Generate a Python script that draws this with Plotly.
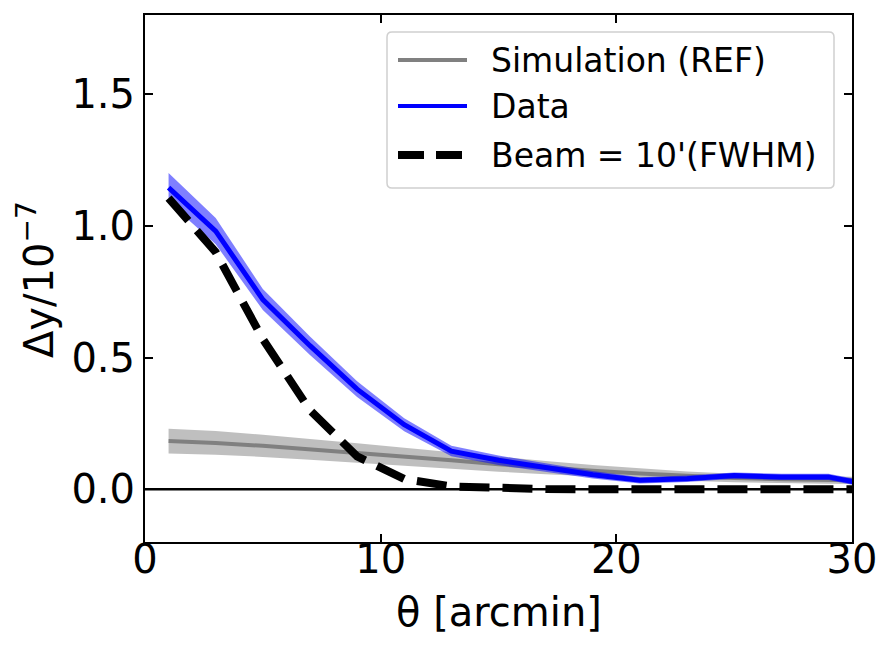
import plotly.graph_objects as go

theta = [1, 3, 5, 7, 9, 11, 13, 15, 17, 19, 21, 23, 25, 27, 29, 31]
data_y = [1.145, 0.98, 0.72, 0.545, 0.38, 0.245, 0.145, 0.11, 0.083, 0.055, 0.034, 0.04, 0.052, 0.047, 0.047, 0.012]
data_err = [0.055, 0.05, 0.04, 0.035, 0.03, 0.025, 0.02, 0.018, 0.016, 0.014, 0.012, 0.012, 0.012, 0.012, 0.012, 0.012]
sim_y = [0.183, 0.176, 0.165, 0.152, 0.138, 0.124, 0.11, 0.095, 0.082, 0.07, 0.06, 0.05, 0.043, 0.038, 0.035, 0.033]
sim_err = [0.047, 0.045, 0.042, 0.04, 0.037, 0.034, 0.031, 0.028, 0.025, 0.022, 0.02, 0.018, 0.016, 0.015, 0.014, 0.014]
beam_y = [1.105, 0.9, 0.57, 0.3, 0.125, 0.039, 0.011, 0.003, 0.001, 0, 0, 0, 0, 0, 0, 0]

x_ticks = [0, 10, 20, 30]
y_ticks = [0.0, 0.5, 1.0, 1.5]

series_names = ["Simulation (REF)", "Data", "Beam = 10'(FWHM)"]
series_colors = ["#808080", "#0000ff", "black"]
x_title = "θ [arcmin]"
y_title = "Δy/10<sup>−7</sup>"

FONT = "DejaVu Sans"
W, H = 894, 654
L, R, T, B = 145, 42, 15, 112
PW, PH = W - L - R, H - T - B


def px_x(p):
    return (p - L) / PW


def px_y(p):
    return (H - B - p) / PH


def band(x, y, e, color):
    xs = list(x) + list(x)[::-1]
    ys = [a + b for a, b in zip(y, e)] + [a - b for a, b in zip(y, e)][::-1]
    return go.Scatter(x=xs, y=ys, fill="toself", fillcolor=color, mode="lines",
                      line=dict(width=0), hoverinfo="skip", showlegend=False)


fig = go.Figure()
fig.add_trace(band(theta, sim_y, sim_err, "rgba(128,128,128,0.5)"))
fig.add_trace(go.Scatter(x=theta, y=sim_y, mode="lines", name=series_names[0], showlegend=False,
                         line=dict(color=series_colors[0], width=4)))
fig.add_trace(band(theta, data_y, data_err, "rgba(0,0,255,0.5)"))
fig.add_trace(go.Scatter(x=theta, y=data_y, mode="lines", name=series_names[1], showlegend=False,
                         line=dict(color=series_colors[1], width=5)))
fig.add_trace(go.Scatter(x=theta, y=beam_y, mode="lines", name=series_names[2], showlegend=False,
                         line=dict(color=series_colors[2], width=8, dash="30px,13px")))

axis_common = dict(showline=True, linecolor="black", linewidth=2, mirror="allticks",
                   ticks="inside", ticklen=8, tickwidth=2, tickcolor="black",
                   showgrid=False, tickfont=dict(family=FONT, size=40, color="black"))

fig.update_xaxes(range=[0, 30], tickvals=x_ticks, ticktext=[str(v) for v in x_ticks],
                 zeroline=False, ticklabelstandoff=-19, **axis_common)
fig.update_yaxes(range=[-0.2, 1.8], tickvals=y_ticks, ticktext=[f"{v:.1f}" for v in y_ticks],
                 zeroline=False, **axis_common)

# horizontal reference line at zero
fig.add_hline(y=0, line=dict(color="black", width=2.5), layer="below")

# axis titles
fig.add_annotation(text=x_title, xref="paper", yref="paper", x=0.5, y=px_y(612),
                   xanchor="center", yanchor="middle", showarrow=False,
                   font=dict(family=FONT, size=40, color="black"))
fig.add_annotation(text=y_title, xref="paper", yref="paper", x=px_x(36), y=px_y(280),
                   xanchor="center", yanchor="middle", showarrow=False, textangle=-90,
                   font=dict(family=FONT, size=40, color="black"))

# legend drawn by hand (box, samples, labels)
bx0, bx1, by0, by1, rad = 387, 834, 32, 188, 5
path = (f"M {px_x(bx0 + rad)},{px_y(by0)} L {px_x(bx1 - rad)},{px_y(by0)} "
        f"Q {px_x(bx1)},{px_y(by0)} {px_x(bx1)},{px_y(by0 + rad)} "
        f"L {px_x(bx1)},{px_y(by1 - rad)} Q {px_x(bx1)},{px_y(by1)} {px_x(bx1 - rad)},{px_y(by1)} "
        f"L {px_x(bx0 + rad)},{px_y(by1)} Q {px_x(bx0)},{px_y(by1)} {px_x(bx0)},{px_y(by1 - rad)} "
        f"L {px_x(bx0)},{px_y(by0 + rad)} Q {px_x(bx0)},{px_y(by0)} {px_x(bx0 + rad)},{px_y(by0)} Z")
fig.add_shape(type="path", path=path, xref="paper", yref="paper",
              line=dict(color="#d0d0d0", width=1.5), fillcolor="rgba(255,255,255,0.8)", layer="above")

rows = [60, 106, 155]
widths = [4, 4, 8]
dashes = ["solid", "solid", "26px,12px"]
for name, col, ry, lw, ds in zip(series_names, series_colors, rows, widths, dashes):
    fig.add_shape(type="line", xref="paper", yref="paper",
                  x0=px_x(398), x1=px_x(467), y0=px_y(ry), y1=px_y(ry),
                  line=dict(color=col, width=lw, dash=ds), layer="above")
    fig.add_annotation(text=name, xref="paper", yref="paper", x=px_x(489), y=px_y(ry),
                       xanchor="left", yanchor="middle", showarrow=False,
                       font=dict(family=FONT, size=33, color="black"))

fig.update_layout(
    width=W, height=H,
    margin=dict(l=L, r=R, t=T, b=B),
    paper_bgcolor="white", plot_bgcolor="white",
    font=dict(family=FONT, color="black"),
    showlegend=False,
)

fig.write_html("out.html")
